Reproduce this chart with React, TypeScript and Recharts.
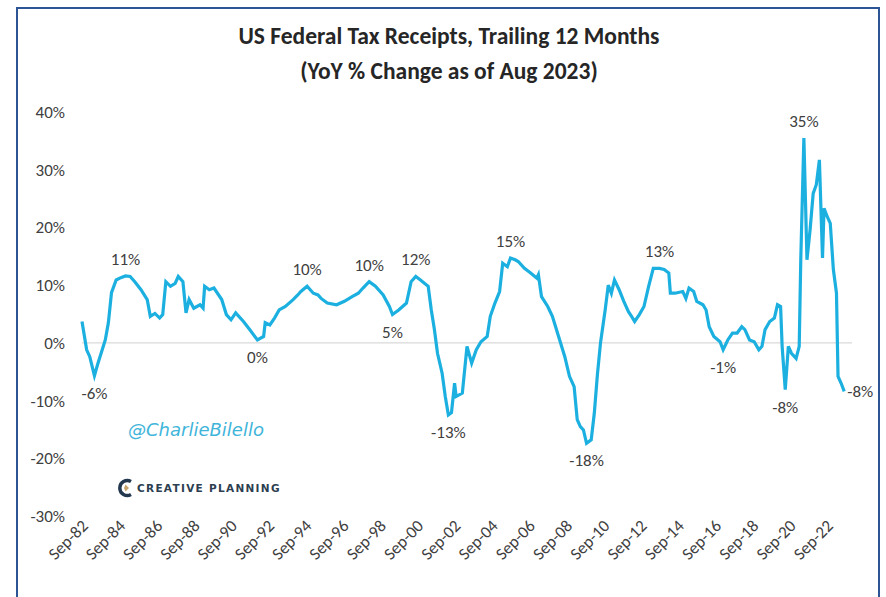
import React from "react";
import { LineChart, Line, XAxis, YAxis, ReferenceLine, LabelList } from "recharts";

const FONT = "Carlito, Calibri, 'Liberation Sans Narrow', 'DejaVu Sans Condensed', sans-serif";
const LINE_COLOR = "#1cb0e0";
const TEXT_COLOR = "#404040";

// readings, YYYY-MM
const dates = [
  "1982-09", "1982-12", "1983-02", "1983-05", "1983-07", "1983-12", "1984-02", "1984-04", "1984-07", "1984-10",
  "1985-01", "1985-04", "1985-07", "1985-11", "1986-03", "1986-05", "1986-08", "1986-11", "1987-01", "1987-03",
  "1987-06", "1987-09", "1987-11", "1988-02", "1988-04", "1988-06", "1988-09", "1989-01", "1989-03", "1989-04",
  "1989-07", "1989-10", "1990-03", "1990-06", "1990-09", "1990-12", "1991-05", "1991-09", "1992-02", "1992-06",
  "1992-07", "1992-10", "1993-01", "1993-04", "1993-08", "1994-01", "1994-04", "1994-06", "1994-10", "1995-02",
  "1995-05", "1995-07", "1995-11", "1996-05", "1996-10", "1997-03", "1997-07", "1997-10", "1998-02", "1998-06",
  "1998-11", "1999-03", "1999-05", "1999-09", "2000-02", "2000-05", "2000-08", "2000-11", "2001-04", "2001-06",
  "2001-08", "2001-10", "2002-01", "2002-03", "2002-05", "2002-07", "2002-09", "2002-10", "2003-02", "2003-05",
  "2003-08", "2003-11", "2004-02", "2004-06", "2004-08", "2004-11", "2005-02", "2005-04", "2005-07", "2005-09",
  "2005-12", "2006-02", "2006-06", "2006-10", "2007-02", "2007-03", "2007-05", "2007-09", "2007-12", "2008-04",
  "2008-08", "2008-11", "2009-02", "2009-04", "2009-06", "2009-08", "2009-10", "2010-01", "2010-03", "2010-05",
  "2010-07", "2010-10", "2010-12", "2011-02", "2011-04", "2011-07", "2011-10", "2012-01", "2012-03", "2012-05",
  "2012-08", "2012-11", "2013-02", "2013-05", "2013-09", "2013-12", "2014-03", "2014-04", "2014-07", "2014-12",
  "2015-02", "2015-04", "2015-07", "2015-09", "2016-01", "2016-03", "2016-05", "2016-08", "2016-12", "2017-02",
  "2017-05", "2017-08", "2017-11", "2018-02", "2018-04", "2018-07", "2018-10", "2019-01", "2019-03", "2019-05",
  "2019-08", "2019-11", "2020-01", "2020-03", "2020-04", "2020-06", "2020-08", "2020-10", "2021-01", "2021-03",
  "2021-04", "2021-06", "2021-08", "2021-10", "2021-12", "2022-02", "2022-04", "2022-06", "2022-07", "2022-09",
  "2022-11", "2023-01", "2023-03", "2023-04", "2023-06", "2023-08",
];

const yoyChange = [
  3.7, -1.2, -2.4, -5.7, -3.8, 0.5, 3.5, 8.7, 10.9, 11.3,
  11.6, 11.5, 10.6, 9.2, 7.5, 4.6, 5.1, 4.3, 4.9, 10.6,
  9.8, 10.3, 11.5, 10.6, 5.2, 7.5, 6.0, 6.6, 6.0, 9.8,
  9.2, 9.5, 7.5, 4.9, 4.0, 5.2, 3.7, 2.3, 0.5, 1.1,
  3.5, 3.1, 4.3, 5.7, 6.3, 7.5, 8.3, 8.9, 9.8, 8.6,
  8.3, 7.7, 6.9, 6.6, 7.2, 8.0, 8.6, 9.5, 10.6, 9.8,
  8.3, 6.3, 4.9, 5.7, 6.9, 10.6, 11.5, 10.9, 9.8, 5.7,
  2.3, -1.8, -5.3, -9.3, -12.5, -12.1, -7.0, -9.3, -8.7, -0.6,
  -3.5, -1.2, 0.2, 1.1, 4.6, 6.9, 8.9, 13.8, 13.2, 14.7,
  14.4, 14.1, 12.9, 12.1, 11.2, 11.8, 8.0, 6.3, 4.6, 1.1,
  -2.4, -5.8, -7.6, -13.3, -14.5, -15.1, -17.4, -16.8, -12.2, -5.5,
  0.0, 5.7, 10.0, 8.6, 10.9, 9.2, 7.2, 5.4, 4.6, 3.7,
  4.9, 6.3, 9.8, 12.9, 12.9, 12.7, 12.1, 8.6, 8.6, 8.9,
  7.7, 9.5, 8.9, 7.2, 6.6, 5.7, 2.8, 1.1, 0.2, -1.2,
  0.5, 1.7, 1.7, 2.8, 2.3, 0.5, 0.2, -1.2, -0.6, 2.3,
  3.7, 4.3, 6.6, 6.3, -0.6, -8.1, -0.6, -1.8, -2.7, -0.6,
  14.4, 35.5, 14.4, 19.6, 25.9, 27.4, 31.7, 14.7, 23.3, 21.9,
  20.7, 12.7, 8.6, -5.8, -7.0, -8.4,
];

const calloutDates = [
  "1983-05", "1985-01", "1992-02", "1994-10", "1998-02", "1999-05", "2000-08", "2002-05",
  "2005-09", "2009-10", "2013-09", "2017-02", "2020-06", "2021-06", "2023-08",
];
const calloutTexts = ["-6%", "11%", "0%", "10%", "10%", "5%", "12%", "-13%", "15%", "-18%", "13%", "-1%", "-8%", "35%", "-8%"];
const calloutSides = ["below", "above", "below", "above", "above", "below", "above", "below", "above", "below", "above", "below", "below", "above", "right"];

const tickDates = [
  "1982-09", "1984-09", "1986-09", "1988-09", "1990-09", "1992-09", "1994-09", "1996-09", "1998-09", "2000-09", "2002-09",
  "2004-09", "2006-09", "2008-09", "2010-09", "2012-09", "2014-09", "2016-09", "2018-09", "2020-09", "2022-09",
];
const tickLabels = [
  "Sep-82", "Sep-84", "Sep-86", "Sep-88", "Sep-90", "Sep-92", "Sep-94", "Sep-96", "Sep-98", "Sep-00", "Sep-02",
  "Sep-04", "Sep-06", "Sep-08", "Sep-10", "Sep-12", "Sep-14", "Sep-16", "Sep-18", "Sep-20", "Sep-22",
];
const yTicks = [-30, -20, -10, 0, 10, 20, 30, 40];

const monthIndex = (d: string) => {
  const [y, m] = d.split("-").map(Number);
  return (y - 1982) * 12 + (m - 9);
};

const chartData = dates.map((d, i) => {
  const c = calloutDates.indexOf(d);
  return {
    t: monthIndex(d),
    yoy: yoyChange[i],
    label: c >= 0 ? calloutTexts[c] : undefined,
    side: c >= 0 ? calloutSides[c] : undefined,
  };
});

const xTicks = tickDates.map(monthIndex);

function XTick(props: any) {
  const { x, y, payload } = props;
  const i = xTicks.indexOf(payload.value);
  return (
    <g transform={`translate(${x + 7},${y + 3})`}>
      <text textAnchor="end" transform="rotate(-45)" fontSize={17} fill={TEXT_COLOR} fontFamily={FONT}>
        {tickLabels[i]}
      </text>
    </g>
  );
}

function Callout(props: any) {
  const { value, index } = props;
  if (!value) return null;
  const x = props.x ?? props.viewBox?.x;
  const y = props.y ?? props.viewBox?.y;
  const side = chartData[index]?.side;
  let tx = x;
  let ty = y - 11;
  let anchor = "middle";
  if (side === "below") ty = y + 23;
  if (side === "right") {
    tx = x + 3;
    ty = y + 6;
    anchor = "start";
  }
  return (
    <text x={tx} y={ty} textAnchor={anchor} fontSize={17} fill={TEXT_COLOR} fontFamily={FONT}>
      {value}
    </text>
  );
}

function CreativeLogo() {
  return (
    <div style={{ position: "absolute", left: 118, top: 478, display: "flex", alignItems: "center" }}>
      <svg width={16} height={20} viewBox="0 0 16 20">
        <path d="M13 3.5 A7.5 7.5 0 1 0 13 16.5" fill="none" stroke="#23384f" strokeWidth={3.4} />
        <path d="M7.5 6.5 L11 10 L7.5 13.5 L6 10 Z" fill="#c9a46b" />
      </svg>
      <span
        style={{
          marginLeft: 3,
          fontFamily: "'DejaVu Sans', sans-serif",
          fontWeight: 700,
          fontSize: 10.5,
          letterSpacing: 1.3,
          color: "#2c3e50",
        }}
      >
        CREATIVE PLANNING
      </span>
    </div>
  );
}

export default function App() {
  return (
    <div style={{ position: "absolute", left: 0, top: 0, width: 886, height: 597, overflow: "hidden", background: "#fff" }}>
      <div
        style={{
          position: "absolute",
          left: 16,
          top: 7,
          width: 864,
          height: 620,
          border: "2px solid #2d5596",
          boxSizing: "border-box",
        }}
      />
      <div
        style={{
          position: "absolute",
          left: 0,
          top: 19,
          width: 898,
          textAlign: "center",
          fontFamily: FONT,
          fontWeight: 700,
          fontSize: 23.5,
          lineHeight: "35px",
          color: "#262626",
        }}
      >
        <div>US Federal Tax Receipts, Trailing 12 Months</div>
        <div>(YoY % Change as of Aug 2023)</div>
      </div>
      <div
        style={{
          position: "absolute",
          left: 128,
          top: 419,
          fontFamily: "'Comic Sans MS', 'DejaVu Sans', sans-serif",
          fontStyle: "italic",
          fontSize: 18,
          color: "#3fb5da",
        }}
      >
        @CharlieBilello
      </div>
      <CreativeLogo />
      <div style={{ position: "absolute", left: 0, top: 0 }}>
        <LineChart width={886} height={597} data={chartData} margin={{ top: 112, right: 34, bottom: 21, left: 0 }}>
          <XAxis
            dataKey="t"
            type="number"
            domain={[0, 496]}
            ticks={xTicks}
            tick={<XTick />}
            axisLine={false}
            tickLine={false}
            height={60}
            interval={0}
          />
          <YAxis
            type="number"
            domain={[-30, 40]}
            ticks={yTicks}
            tickFormatter={(v) => `${v}%`}
            axisLine={false}
            tickLine={false}
            width={82}
            tickMargin={11}
            tick={{ fontSize: 17, fill: TEXT_COLOR, fontFamily: FONT }}
          />
          <ReferenceLine y={0} stroke="#d9d9d9" strokeWidth={1.2} />
          <Line
            dataKey="yoy"
            type="linear"
            stroke={LINE_COLOR}
            strokeWidth={3.2}
            dot={false}
            isAnimationActive={false}
          >
            <LabelList dataKey="label" content={<Callout />} />
          </Line>
        </LineChart>
      </div>
    </div>
  );
}
